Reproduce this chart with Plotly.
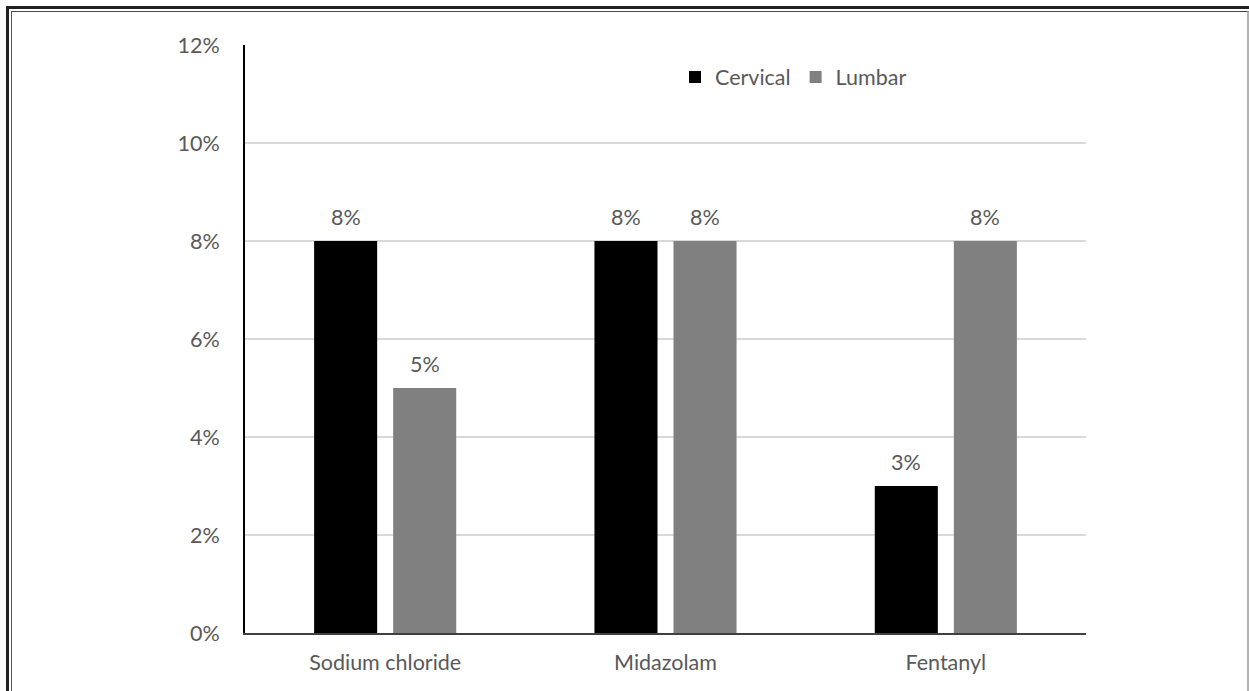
import plotly.graph_objects as go

categories = ["Sodium chloride", "Midazolam", "Fentanyl"]
cervical = [0.08, 0.08, 0.03]
lumbar = [0.05, 0.08, 0.08]
y_ticks = [0, 0.02, 0.04, 0.06, 0.08, 0.10, 0.12]

W, H = 1249, 691
L, R, T, B = 245, 163, 45, 58
pw, ph = W - L - R, H - T - B

def px(x):
    return (x - L) / pw

def py(y):
    return (H - B - y) / ph

font = "Lato, 'Open Sans', sans-serif"
grey_txt = "#595959"
FS = 21.5

fig = go.Figure()
fig.add_trace(go.Bar(x=categories, y=cervical, name="Cervical",
                     marker=dict(color="#000000", line=dict(width=0))))
fig.add_trace(go.Bar(x=categories, y=lumbar, name="Lumbar",
                     marker=dict(color="#808080", line=dict(width=0))))

annotations = []
for series, shift in ((cervical, -39.5), (lumbar, 39.5)):
    for cat, val in zip(categories, series):
        annotations.append(dict(x=cat, y=val, xref="x", yref="y", text=f"{val:.0%}",
                                showarrow=False, xshift=shift, yshift=9,
                                yanchor="bottom", xanchor="center",
                                font=dict(size=FS, color=grey_txt, family=font)))

shapes = [
    dict(type="line", xref="paper", yref="paper", x0=px(6), x1=px(1249), y0=py(7.5), y1=py(7.5),
         line=dict(color="#222222", width=3)),
    dict(type="line", xref="paper", yref="paper", x0=px(11), x1=px(1249), y0=py(11.5), y1=py(11.5),
         line=dict(color="#444444", width=1)),
    dict(type="line", xref="paper", yref="paper", x0=px(7.5), x1=px(7.5), y0=py(6), y1=py(691),
         line=dict(color="#222222", width=3)),
    dict(type="line", xref="paper", yref="paper", x0=px(11.5), x1=px(11.5), y0=py(11), y1=py(691),
         line=dict(color="#555555", width=1)),
    dict(type="line", xref="paper", yref="paper", x0=px(1248), x1=px(1248), y0=py(11), y1=py(691),
         line=dict(color="#999999", width=1.5)),
]

fig.update_layout(
    width=W, height=H,
    margin=dict(l=L, r=R, t=T, b=B, pad=0),
    paper_bgcolor="white", plot_bgcolor="white",
    barmode="group", bargap=0.436, bargroupgap=0.2025,
    font=dict(family=font, color=grey_txt, size=FS),
    showlegend=True,
    legend=dict(orientation="h", x=px(675), y=py(77), xanchor="left", yanchor="middle",
                font=dict(size=FS, color=grey_txt, family=font),
                itemwidth=30, traceorder="normal", bgcolor="rgba(0,0,0,0)"),
    xaxis=dict(showline=True, linecolor="#404040", linewidth=2, ticks="",
               ticklabelstandoff=9,
               tickfont=dict(size=FS, color=grey_txt, family=font), showgrid=False),
    yaxis=dict(range=[0, 0.12], tickvals=y_ticks, tickformat=".0%",
               showline=True, linecolor="#000000", linewidth=2,
               showgrid=True, gridcolor="#d9d9d9", gridwidth=1.5,
               ticks="", ticklabelstandoff=19,
               tickfont=dict(size=FS, color=grey_txt, family=font), zeroline=False),
    shapes=shapes,
    annotations=annotations,
)

fig.write_html("out.html")
